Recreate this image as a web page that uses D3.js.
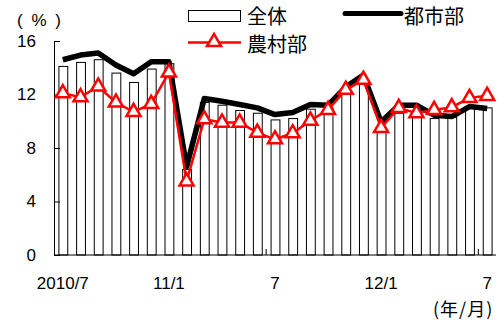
<!DOCTYPE html>
<html>
<head>
<meta charset="utf-8">
<script src="https://cdn.jsdelivr.net/npm/d3@7"></script>
<style>
  html, body { margin: 0; padding: 0; background: #fff; }
  svg text { font-family: "Liberation Sans", Arial, "Noto Sans CJK JP", sans-serif; fill: #000; }
  .jp { font-family: "Noto Sans CJK JP", "Liberation Sans", sans-serif; }
</style>
</head>
<body>
<svg id="chart" width="501" height="322"></svg>
<script>
// Monthly series, 2010/7 – 2012/7 (%)
const months = [
  "2010/7","2010/8","2010/9","2010/10","2010/11","2010/12",
  "2011/1","2011/2","2011/3","2011/4","2011/5","2011/6",
  "2011/7","2011/8","2011/9","2011/10","2011/11","2011/12",
  "2012/1","2012/2","2012/3","2012/4","2012/5","2012/6","2012/7"
];
const total = [14.1, 14.4, 14.6, 13.6, 12.9, 13.9, 14.3, 6.4, 11.4, 11.2, 10.8, 10.6,
               10.1, 10.2, 10.9, 11.0, 12.2, 12.9, 9.5, 10.6, 10.6, 10.2, 10.3, 11.1, 11.0];
const urban = [14.6, 14.95, 15.1, 14.2, 13.55, 14.45, 14.45, 6.6, 11.7, 11.5, 11.25, 11.0,
               10.5, 10.65, 11.25, 11.2, 12.55, 13.45, 9.95, 11.2, 11.2, 10.45, 10.35, 11.1, 10.95];
const rural = [12.1, 11.8, 12.6, 11.4, 10.7, 11.3, 13.65, 5.5, 10.15, 9.9, 9.9, 9.15,
               8.65, 9.1, 10.05, 10.85, 12.35, 13.1, 9.5, 11.0, 10.6, 10.85, 11.05, 11.75, 11.9];
const yTicks = [0, 4, 8, 12, 16];
const xTickLabels = [
  { month: "2010/7", text: "2010/7" },
  { month: "2011/1", text: "11/1" },
  { month: "2011/7", text: "7" },
  { month: "2012/1", text: "12/1" },
  { month: "2012/7", text: "7" }
];
const yearStarts = ["2011/7", "2012/7"];

const svg = d3.select("#chart");
const plot = { left: 54, right: 496, top: 41, bottom: 255 };

const x = d3.scaleBand().domain(months).range([plot.left, plot.right]).paddingInner(0.5).paddingOuter(0.25);
const y = d3.scaleLinear().domain([0, 16]).range([plot.bottom, plot.top]);
const cx = m => x(m) + x.bandwidth() / 2;

// Bars: overall rate
svg.append("g").selectAll("rect").data(months).join("rect")
  .attr("x", m => x(m) + 0.5)
  .attr("y", (m, i) => y(total[i]))
  .attr("width", x.bandwidth())
  .attr("height", (m, i) => y(0) - y(total[i]))
  .attr("fill", "#fff")
  .attr("stroke", "#000")
  .attr("stroke-width", 1);

// Y axis with inward ticks
const yAxis = d3.axisLeft(y).tickValues(yTicks).tickSize(-6).tickPadding(18).tickFormat(d3.format("d"));
const gy = svg.append("g").attr("transform", `translate(${plot.left},0)`).call(yAxis);
gy.select(".domain").attr("stroke", "#000");
gy.selectAll(".tick line").attr("stroke", "#000");
gy.selectAll(".tick text").attr("font-size", 17)
  .attr("font-family", "Liberation Sans, Arial, sans-serif");

// X axis baseline
svg.append("line")
  .attr("x1", plot.left).attr("x2", plot.right)
  .attr("y1", y(0)).attr("y2", y(0))
  .attr("stroke", "#000").attr("stroke-width", 1.2);

// Year-boundary ticks on the baseline
const step = x.step();
svg.append("g").selectAll("line").data(yearStarts).join("line")
  .attr("x1", m => x(m) - step * 0.25).attr("x2", m => x(m) - step * 0.25)
  .attr("y1", y(0)).attr("y2", y(0) - 6)
  .attr("stroke", "#000");

// X tick labels
svg.append("g").selectAll("text").data(xTickLabels).join("text")
  .attr("x", d => cx(d.month))
  .attr("y", 289)
  .attr("text-anchor", "middle")
  .attr("font-size", 17)
  .text(d => d.text);

// Urban line
const line = d3.line().x((d, i) => cx(months[i])).y(d => y(d));
svg.append("path").datum(urban)
  .attr("d", line)
  .attr("fill", "none").attr("stroke", "#000").attr("stroke-width", 5.5)
  .attr("stroke-linejoin", "round");

// Rural line with triangle markers
svg.append("path").datum(rural)
  .attr("d", line)
  .attr("fill", "none").attr("stroke", "#ff0000").attr("stroke-width", 2.5);

const tri = d3.symbol().type(d3.symbolTriangle).size(85);
svg.append("g").selectAll("path").data(rural).join("path")
  .attr("d", tri)
  .attr("transform", (d, i) => `translate(${cx(months[i])},${y(d)})`)
  .attr("fill", "#fff").attr("stroke", "#ff0000").attr("stroke-width", 2.5);

// Unit labels
svg.append("text").attr("x", 17).attr("y", 26).attr("font-size", 17)
  .attr("letter-spacing", 2).text("( % )");
svg.append("text").attr("class", "jp").attr("x", 433).attr("y", 316)
  .attr("font-size", 18).attr("letter-spacing", 1).text("(年/月)");

// Legend
const lg = svg.append("g");
lg.append("rect").attr("x", 188.5).attr("y", 10.5).attr("width", 52).attr("height", 11)
  .attr("fill", "#fff").attr("stroke", "#000");
lg.append("text").attr("class", "jp").attr("x", 247).attr("y", 24).attr("font-size", 20).text("全体");
lg.append("line").attr("x1", 345).attr("x2", 401).attr("y1", 13.5).attr("y2", 13.5)
  .attr("stroke", "#000").attr("stroke-width", 5).attr("stroke-linecap", "round");
lg.append("text").attr("class", "jp").attr("x", 404).attr("y", 24).attr("font-size", 20).text("都市部");
lg.append("line").attr("x1", 188).attr("x2", 241).attr("y1", 42.5).attr("y2", 42.5)
  .attr("stroke", "#ff0000").attr("stroke-width", 2.5);
lg.append("path").attr("d", tri).attr("transform", "translate(214,42)")
  .attr("fill", "#fff").attr("stroke", "#ff0000").attr("stroke-width", 2.5);
lg.append("text").attr("class", "jp").attr("x", 247).attr("y", 52).attr("font-size", 20).text("農村部");
</script>
</body>
</html>
